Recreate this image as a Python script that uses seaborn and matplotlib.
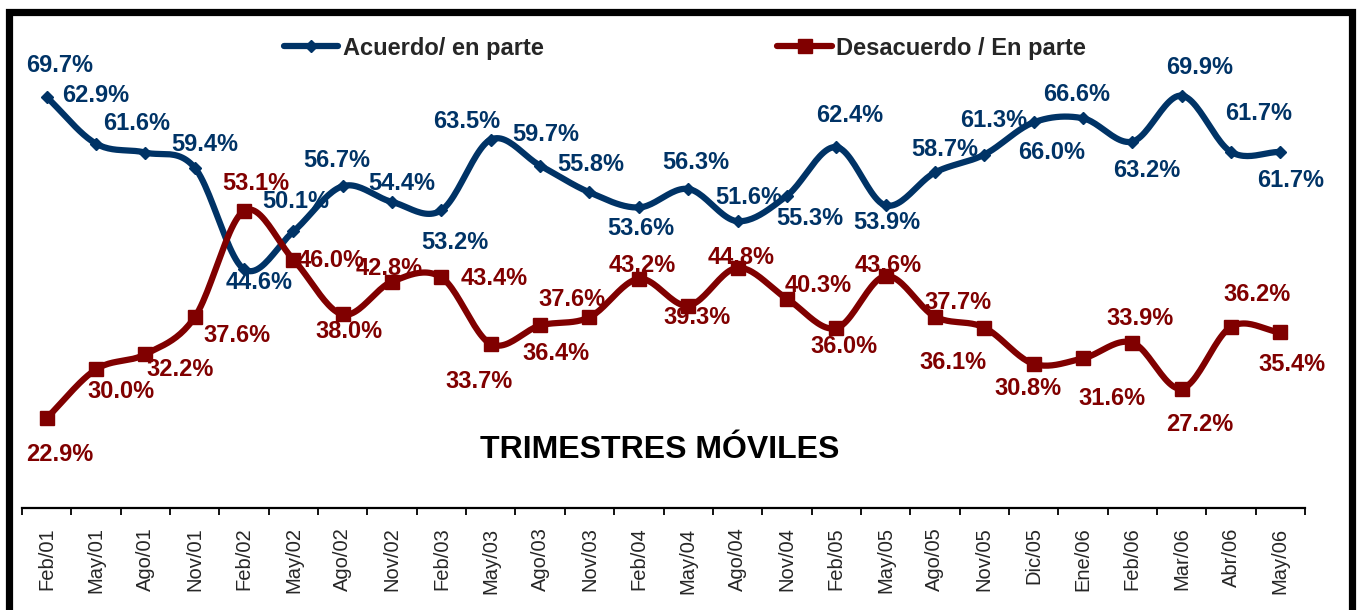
import numpy as np
import pandas as pd
import matplotlib
matplotlib.use('Agg')
import matplotlib.pyplot as plt
import seaborn as sns
from matplotlib.lines import Line2D
from matplotlib.patches import Rectangle

# ── Data ───────────────────────────────────────────────────
periodos = ['Feb/01', 'May/01', 'Ago/01', 'Nov/01', 'Feb/02', 'May/02', 'Ago/02',
            'Nov/02', 'Feb/03', 'May/03', 'Ago/03', 'Nov/03', 'Feb/04', 'May/04',
            'Ago/04', 'Nov/04', 'Feb/05', 'May/05', 'Ago/05', 'Nov/05', 'Dic/05',
            'Ene/06', 'Feb/06', 'Mar/06', 'Abr/06', 'May/06']
acuerdo = [69.7, 62.9, 61.6, 59.4, 44.6, 50.1, 56.7, 54.4, 53.2, 63.5, 59.7, 55.8, 53.6,
           56.3, 51.6, 55.3, 62.4, 53.9, 58.7, 61.3, 66.0, 66.6, 63.2, 69.9, 61.7, 61.7]
desacuerdo = [22.9, 30.0, 32.2, 37.6, 53.1, 46.0, 38.0, 42.8, 43.4, 33.7, 36.4, 37.6, 43.2,
              39.3, 44.8, 40.3, 36.0, 43.6, 37.7, 36.1, 30.8, 31.6, 33.9, 27.2, 36.2, 35.4]

# label offsets in pixels (dx right, dy down) from each point
acu_off = [(13, -34), (0, -50), (-9, -31), (10, -25), (15, 11), (2, -32), (-6, -28),
           (10, -20), (13, 30), (-24, -20), (6, -33), (1, -30), (2, 19), (8, -28),
           (11, -26), (23, 21), (13, -34), (1, 15), (10, -25), (9, -36), (18, 28),
           (-6, -26), (14, 27), (18, -30), (28, -40), (10, 27)]
des_off = [(13, 34), (25, 20), (35, 13), (42, 16), (12, -29), (38, -1), (6, 15),
           (-3, -15), (53, -1), (-12, 36), (16, 26), (-17, -20), (3, -15), (9, 10),
           (4, -12), (31, -15), (8, 16), (3, -13), (23, -16), (-31, 33), (-6, 23),
           (29, 38), (8, -26), (18, 34), (26, -34), (12, 30)]

AZUL = '#003366'
ROJO = '#800000'
FONT = ['Liberation Sans', 'DejaVu Sans']


def smooth(x, y, n=24):
    # Catmull-Rom curve through the points (like Excel's smoothed line)
    pts = np.column_stack([x, y]).astype(float)
    P = np.vstack([2 * pts[0] - pts[1], pts, 2 * pts[-1] - pts[-2]])
    t = np.linspace(0, 1, n, endpoint=False)[:, None]
    out = []
    for i in range(1, len(P) - 2):
        p0, p1, p2, p3 = P[i - 1], P[i], P[i + 1], P[i + 2]
        seg = 0.5 * (2 * p1 + (-p0 + p2) * t + (2 * p0 - 5 * p1 + 4 * p2 - p3) * t ** 2
                     + (-p0 + 3 * p1 - 3 * p2 + p3) * t ** 3)
        out.append(seg)
    out.append(pts[-1:])
    s = np.vstack(out)
    return pd.DataFrame({'x': s[:, 0], 'y': s[:, 1]})


sns.set_style('white')
plt.rcParams['font.family'] = FONT

W, H = 1358, 610
fig = plt.figure(figsize=(W / 100, H / 100), dpi=100)
ax = fig.add_axes([22 / W, (H - 508) / H, (1305 - 22) / W, (508 - 16) / H])

x = np.arange(len(periodos))
df = pd.DataFrame({'x': x, 'acuerdo': acuerdo, 'desacuerdo': desacuerdo})

# ── Lines and markers ──────────────────────────────────────
for col, color, marker, ms in [('acuerdo', AZUL, 'D', 6), ('desacuerdo', ROJO, 's', 9.5)]:
    sm = smooth(df['x'], df[col])
    sns.lineplot(data=sm, x='x', y='y', sort=False, estimator=None, color=color,
                 linewidth=4.5, ax=ax, zorder=2, solid_capstyle='round')
    ax.plot(df['x'], df[col], linestyle='none', marker=marker, markersize=ms,
            color=color, zorder=3)

# ── Data labels ────────────────────────────────────────────
for vals, offs, color in [(acuerdo, acu_off, AZUL), (desacuerdo, des_off, ROJO)]:
    for i, (v, (dx, dy)) in enumerate(zip(vals, offs)):
        ax.annotate(f'{v:.1f}%', (i, v), xytext=(dx, -dy - 8.5), textcoords='offset pixels',
                    ha='center', va='baseline', fontsize=17, fontweight='bold',
                    color=color, zorder=5)

# ── Axes ───────────────────────────────────────────────────
ax.set_xlim(-0.5, len(periodos) - 0.5)
ax.set_ylim(9.79, 81.51)
ax.set_yticks([])
ax.set_xlabel('')
ax.set_ylabel('')
for s in ['top', 'left', 'right']:
    ax.spines[s].set_visible(False)
ax.spines['bottom'].set_linewidth(1.6)
ax.spines['bottom'].set_color('black')
ax.set_xticks(np.arange(len(periodos) + 1) - 0.5)
ax.set_xticklabels([])
ax.set_xticks(x, minor=True)
ax.set_xticklabels(periodos, minor=True, rotation=90, fontsize=14.5)
ax.tick_params(axis='x', which='major', direction='out', length=5, width=1.3,
               color='black', bottom=True)
ax.tick_params(axis='x', which='minor', length=0, pad=14)
ax.patch.set_alpha(0)

# ── Legend, title and frame ────────────────────────────────
handles = [Line2D([], [], color=AZUL, lw=4.5, marker='D', markersize=6),
           Line2D([], [], color=ROJO, lw=4.5, marker='s', markersize=9.5)]
fig.legend(handles, ['Acuerdo/ en parte', 'Desacuerdo / En parte'],
           loc='center', bbox_to_anchor=(685 / W, 1 - 48 / H), ncol=2, frameon=False,
           prop={'size': 17, 'weight': 'bold'}, handlelength=2.3, handletextpad=0.2,
           columnspacing=9.9, borderpad=0, borderaxespad=0)

fig.text(660 / W, 1 - 450 / H, 'TRIMESTRES MÓVILES', ha='center', va='center',
         fontsize=23, fontweight='bold', color='black')

fig.patches.append(Rectangle((8.5 / W, -0.1), (1351.5 - 8.5) / W, 1.1 - 12.5 / H,
                             transform=fig.transFigure, fill=False, edgecolor='black',
                             linewidth=5.2, zorder=10))

fig.savefig('out.png', dpi=100)
plt.close(fig)
